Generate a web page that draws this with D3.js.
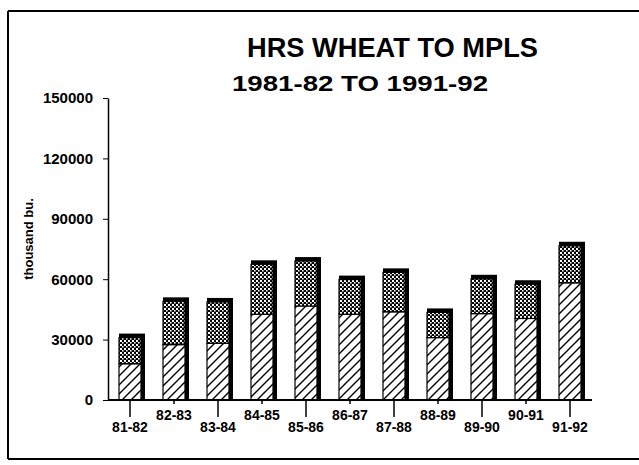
<!DOCTYPE html>
<html>
<head>
<meta charset="utf-8">
<script src="https://cdn.jsdelivr.net/npm/d3@7"></script>
<style>
  html, body { margin: 0; padding: 0; background: #fff; }
  svg { display: block; }
  text { font-family: "Liberation Sans", Arial, sans-serif; fill: #000; }
</style>
</head>
<body>
<svg id="chart" width="639" height="465"></svg>
<script>
// ---- data ----
const categories = ["81-82","82-83","83-84","84-85","85-86","86-87","87-88","88-89","89-90","90-91","91-92"];
const lowerValues = [18000, 27500, 28200, 42600, 46700, 42600, 43800, 31000, 42900, 40500, 58200];
const upperValues = [13000, 21500, 20500, 24800, 22300, 17200, 19600, 12500, 17300, 17000, 18400];
const yTickValues = [0, 30000, 60000, 90000, 120000, 150000];
const titleText = "HRS WHEAT TO MPLS";
const subtitleText = "1981-82 TO 1991-92";
const yAxisLabel = "thousand bu.";

const svg = d3.select("#chart");

// patterns
const defs = svg.append("defs");
const hatch = defs.append("pattern").attr("id","hatch").attr("patternUnits","userSpaceOnUse")
  .attr("width",9).attr("height",9);
hatch.append("rect").attr("width",9).attr("height",9).attr("fill","#fff");
hatch.append("path").attr("d","M0,9 L9,0 M-2,2 L2,-2 M7,11 L11,7")
  .attr("stroke","#000").attr("stroke-width",1.4);
const dots = defs.append("pattern").attr("id","dots").attr("patternUnits","userSpaceOnUse")
  .attr("width",4).attr("height",4);
dots.append("rect").attr("width",4).attr("height",4).attr("fill","#000");
dots.append("rect").attr("x",0).attr("y",0).attr("width",2).attr("height",2).attr("fill","#fff");
dots.append("rect").attr("x",2).attr("y",2).attr("width",1.6).attr("height",1.6).attr("fill","#fff");

// frame
svg.append("path").attr("d","M8,11 L639,11 M8,11 L8,459 M8,459 L639,459")
  .attr("stroke","#000").attr("stroke-width",2).attr("fill","none");

// scales
const x = d3.scaleBand().domain(categories).range([108, 592]).paddingInner(0.5).paddingOuter(0.25);
const y = d3.scaleLinear().domain([0, 150000]).range([400, 98]);

// titles
svg.append("text").attr("x", 247).attr("y", 57).attr("font-size", 27).attr("font-weight","bold")
  .attr("textLength", 291).attr("lengthAdjust","spacingAndGlyphs").text(titleText);
svg.append("text").attr("x", 232).attr("y", 91).attr("font-size", 22).attr("font-weight","bold")
  .attr("textLength", 256).attr("lengthAdjust","spacingAndGlyphs").text(subtitleText);

// bars
const data = categories.map((c,i) => ({c, lo: lowerValues[i], up: upperValues[i]}));
const bars = svg.append("g");
const sh = 4;
bars.selectAll("rect.shadow").data(data).join("rect").attr("class","shadow")
  .attr("x", d => x(d.c)).attr("y", d => y(d.lo + d.up) - sh)
  .attr("width", x.bandwidth() + sh).attr("height", d => y(0) - y(d.lo + d.up) + sh)
  .attr("fill","#000");
bars.selectAll("rect.lower").data(data).join("rect").attr("class","lower")
  .attr("x", d => x(d.c)).attr("y", d => y(d.lo))
  .attr("width", x.bandwidth()).attr("height", d => y(0) - y(d.lo))
  .attr("fill","url(#hatch)").attr("stroke","#000").attr("stroke-width",1.2);
bars.selectAll("rect.upper").data(data).join("rect").attr("class","upper")
  .attr("x", d => x(d.c)).attr("y", d => y(d.lo + d.up))
  .attr("width", x.bandwidth()).attr("height", d => y(d.lo) - y(d.lo + d.up))
  .attr("fill","url(#dots)").attr("stroke","#000").attr("stroke-width",1.2);

// y axis
const yAxis = svg.append("g").attr("transform","translate(108,0)")
  .call(d3.axisLeft(y).tickValues(yTickValues).tickFormat(d3.format("d")).tickSize(5).tickSizeOuter(0).tickPadding(10));
yAxis.select(".domain").attr("stroke-width",1.5);
yAxis.selectAll("text").attr("font-size",15).attr("font-weight","bold")
  .style("font-family","'Liberation Sans', Arial, sans-serif");

// x axis
const xAxis = svg.append("g").attr("transform","translate(0,400)")
  .call(d3.axisBottom(x).tickSize(0).tickSizeOuter(0).tickPadding(0));
xAxis.select(".domain").attr("d","M108,0H592").attr("stroke-width",2);
xAxis.selectAll(".tick line").attr("y2", (d,i) => i % 2 === 0 ? 17 : 4).attr("stroke-width",1.5);
xAxis.selectAll(".tick text").attr("dy", null).attr("y", (d,i) => i % 2 === 0 ? 32 : 20)
  .attr("font-size",14).attr("font-weight","bold")
  .style("font-family","'Liberation Sans', Arial, sans-serif");

// y axis label
svg.append("text").attr("transform","translate(33,239) rotate(-90)").attr("text-anchor","middle")
  .attr("font-size",13).attr("font-weight","bold").text(yAxisLabel);
</script>
</body>
</html>
